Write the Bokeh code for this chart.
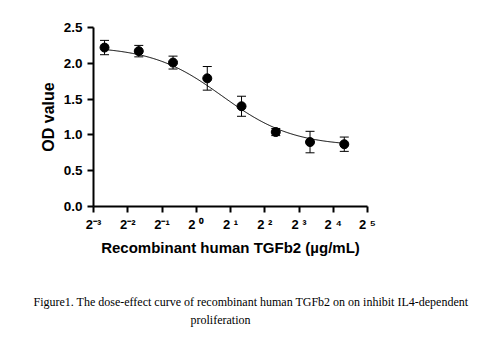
import numpy as np
from bokeh.plotting import figure
from bokeh.models import FixedTicker, Whisker, ColumnDataSource, Range1d, Title
from bokeh.embed import file_html
from bokeh.resources import INLINE

# ---- data ----
conc = [0.15625, 0.3125, 0.625, 1.25, 2.5, 5, 10, 20]          # µg/mL
od_mean = [2.22, 2.17, 2.01, 1.79, 1.40, 1.04, 0.90, 0.87]
od_err = [0.10, 0.08, 0.09, 0.165, 0.14, 0.05, 0.15, 0.10]
x_exponents = [-3, -2, -1, 0, 1, 2, 3, 4, 5]
y_ticks = [0.0, 0.5, 1.0, 1.5, 2.0, 2.5]
caption_lines = ["Figure1. The dose-effect curve of recombinant human TGFb2 on on inhibit IL4-dependent",
                 "proliferation"]
# four-parameter logistic fit shown as the curve (parameters)
fit_top, fit_bottom, fit_ec50, fit_hill = 2.24, 0.84, 1.7, 1.4

FONT = "Liberation Sans"
SERIF = "Liberation Serif"
SUP = str.maketrans("-0123456789", "⁻⁰¹²³⁴⁵⁶⁷⁸⁹")

p = figure(width=486, height=340, output_backend="svg", toolbar_location=None,
           x_axis_type="log", x_range=Range1d(2**-3, 2**5), y_range=Range1d(0, 2.5),
           min_border_left=93, min_border_right=119, min_border_top=27, min_border_bottom=134)
p.outline_line_color = None
p.xgrid.visible = False
p.ygrid.visible = False
p.background_fill_color = "white"
p.border_fill_color = "white"

for ax in (p.xaxis[0], p.yaxis[0]):
    ax.axis_line_width = 2
    ax.axis_line_color = "black"
    ax.major_tick_line_width = 2
    ax.major_tick_line_color = "black"
    ax.major_tick_out = 6
    ax.major_tick_in = 0
    ax.minor_tick_line_color = None
    ax.major_label_text_font = FONT
    ax.major_label_text_font_style = "bold"
    ax.major_label_text_color = "black"
    ax.axis_label_text_font = FONT
    ax.axis_label_text_font_style = "bold"
    ax.axis_label_text_color = "black"

x_ticks = [2.0 ** k for k in x_exponents]
p.xaxis.ticker = FixedTicker(ticks=x_ticks)
p.xaxis.major_label_overrides = {t: "2" + (" " if k >= 0 else "") + str(k).translate(SUP)
                                 for t, k in zip(x_ticks, x_exponents)}
p.xaxis.major_label_text_font_size = "13px"
p.xaxis.major_label_standoff = 4
p.xaxis.axis_label = "Recombinant human TGFb2 (µg/mL)"
p.xaxis.axis_label_text_font_size = "15px"
p.xaxis.axis_label_standoff = 4

p.yaxis.ticker = FixedTicker(ticks=y_ticks)
p.yaxis.major_label_overrides = {t: f"{t:.1f}" for t in y_ticks}
p.yaxis.major_label_text_font_size = "13.5px"
p.yaxis.major_label_standoff = 5
p.yaxis.axis_label = "OD value"
p.yaxis.axis_label_text_font_size = "16px"
p.yaxis.axis_label_standoff = 4

# fitted curve
xs = np.geomspace(conc[0], conc[-1], 300)
ys = fit_bottom + (fit_top - fit_bottom) / (1 + (xs / fit_ec50) ** fit_hill)
p.line(xs, ys, line_color="black", line_width=1)

# error bars and points
src = ColumnDataSource(dict(x=conc, y=od_mean,
                            lo=[m - e for m, e in zip(od_mean, od_err)],
                            hi=[m + e for m, e in zip(od_mean, od_err)]))
w = Whisker(source=src, base="x", lower="lo", upper="hi", line_color="black", line_width=1)
w.upper_head.size = 9
w.lower_head.size = 9
w.upper_head.line_width = 1
w.lower_head.line_width = 1
p.add_layout(w)
p.scatter("x", "y", source=src, size=9, color="black")

# caption below the axis
p.add_layout(Title(text=".", text_color="white", text_font_size="30px"), "below")
p.add_layout(Title(text=caption_lines[0], text_font=SERIF, text_font_size="12px",
                   text_color="black", text_font_style="normal", align="left", offset=-60,
                   standoff=4), "below")
p.add_layout(Title(text=caption_lines[1], text_font=SERIF, text_font_size="12px",
                   text_color="black", text_font_style="normal", align="left", offset=97,
                   standoff=1), "below")

open("out.html", "w").write(file_html(p, INLINE))
